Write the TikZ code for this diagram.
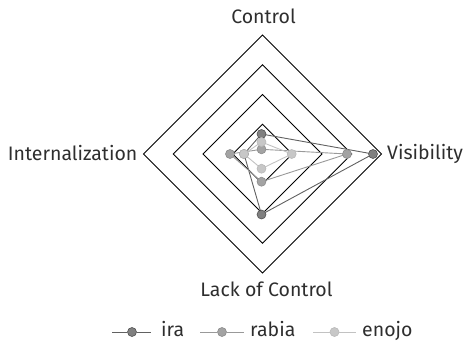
\documentclass[tikz,border=0pt]{standalone}
\usepackage{fontspec}
\setmainfont{Fira Sans}
\usetikzlibrary{calc}
\begin{document}
\begin{tikzpicture}[x=1pt,y=-1pt,
  ring/.style={draw=black,line width=0.9pt},
  axislabel/.style={font=\fontsize{19.5}{22}\selectfont,text=black!82,inner sep=0pt},
  iraline/.style={draw=black!62,line width=0.9pt},
  rabialine/.style={draw=black!40,line width=0.9pt},
  enojoline/.style={draw=black!24,line width=0.9pt},
  iradot/.style={circle,fill=black!50,draw=black!68,line width=0.6pt,minimum size=9pt,inner sep=0pt},
  rabiadot/.style={circle,fill=black!36,draw=black!45,line width=0.6pt,minimum size=9pt,inner sep=0pt},
  enojodot/.style={circle,fill=black!22,draw=black!28,line width=0.6pt,minimum size=9pt,inner sep=0pt},
  legendtext/.style={font=\fontsize{19.5}{22}\selectfont,text=black!82,inner sep=0pt,anchor=base west}]
\useasboundingbox (0,0) rectangle (466,341);
\coordinate (c) at (262.5,154);
% concentric diamond grid
\foreach \r in {29.75,59.5,89.25,119}
  \draw[ring] ($(c)+(0,-\r)$) -- ($(c)+(\r,0)$) -- ($(c)+(0,\r)$) -- ($(c)+(-\r,0)$) -- cycle;
% axis labels
\node[axislabel,anchor=base] (lc) at (263.5,23.3) {Control};
\node[axislabel,anchor=base] (llc) at (266.5,296) {Lack of Control};
\node[axislabel,anchor=base east] (li) at (137.5,160) {Internalization};
\node[axislabel,anchor=base west] (lv) at (387,159.5) {Visibility};
% data points
\coordinate (i1) at (261.5,134);
\coordinate (i2) at (373,154);
\coordinate (i3) at (261.5,214.5);
\coordinate (i4) at (244,154);
\coordinate (r1) at (261.5,149.3);
\coordinate (r2) at (347,154);
\coordinate (r3) at (261.5,181.7);
\coordinate (r4) at (230,154);
\coordinate (e1) at (261.5,142);
\coordinate (e2) at (291.7,154);
\coordinate (e3) at (261.5,168.7);
\coordinate (e4) at (244,154);
% series
\draw[iraline] (i1) -- (i2) -- (i3) -- (i4) -- cycle;
\foreach \p in {i1,i2,i3,i4} \node[iradot] at (\p) {};
\draw[rabialine] (r1) -- (r2) -- (r3) -- (r4) -- cycle;
\foreach \p in {r1,r2,r3,r4} \node[rabiadot] at (\p) {};
\draw[enojoline] (e1) -- (e2) -- (e3) -- (e4) -- cycle;
\foreach \p in {e1,e2,e3,e4} \node[enojodot] at (\p) {};
% legend
\coordinate (la0) at (112,332);
\coordinate (la1) at (151,332);
\node[iradot] (ld1) at (132,332) {};
\draw[iraline] (la0) -- (ld1) -- (la1);
\node[legendtext] (lt1) at (161,336) {ira};
\coordinate (lb0) at (200,332);
\coordinate (lb1) at (244,332);
\node[rabiadot] (ld2) at (222,332) {};
\draw[rabialine] (lb0) -- (ld2) -- (lb1);
\node[legendtext] (lt2) at (250,336) {rabia};
\coordinate (lc0) at (313,332);
\coordinate (lc1) at (356,332);
\node[enojodot] (ld3) at (334.5,332) {};
\draw[enojoline] (lc0) -- (ld3) -- (lc1);
\node[legendtext] (lt3) at (362,336) {enojo};
\end{tikzpicture}
\end{document}
